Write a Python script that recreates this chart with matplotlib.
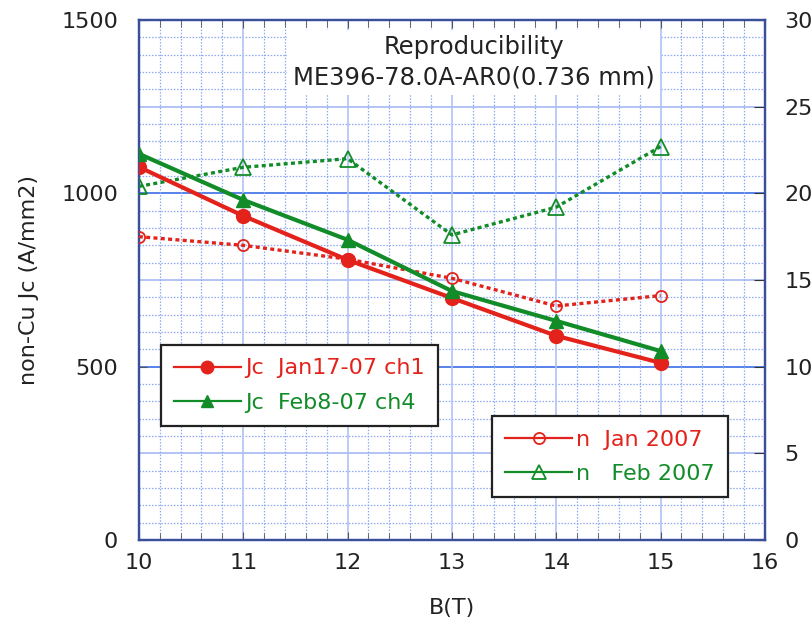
import numpy as np
import matplotlib.pyplot as plt
from matplotlib.lines import Line2D
from matplotlib.ticker import MultipleLocator

plt.rcParams['font.family'] = ['DejaVu Sans']

# ── data ──
field_T = [10, 11, 12, 13, 14, 15]
jc_jan = [1076, 935, 808, 698, 589, 511]
jc_feb = [1114, 981, 866, 718, 632, 545]
n_jan = [17.5, 17.0, 16.2, 15.1, 13.5, 14.1]
n_feb = [20.4, 21.5, 22.0, 17.6, 19.2, 22.7]

RED = '#e3231b'
GREEN = '#128c28'
SPINE = '#3a4f9a'

fig = plt.figure(figsize=(8.12, 6.24), dpi=100)
ax = fig.add_axes([0.171, 0.1346, 0.771, 0.8334])
ax2 = ax.twinx()

# ── grid ──
ax.set_xlim(10, 16)
ax.set_ylim(0, 1500)
ax2.set_ylim(0, 30)
ax.xaxis.set_major_locator(MultipleLocator(1))
ax.xaxis.set_minor_locator(MultipleLocator(0.2))
ax.yaxis.set_major_locator(MultipleLocator(500))
ax.yaxis.set_minor_locator(MultipleLocator(50))
ax2.yaxis.set_major_locator(MultipleLocator(5))

for yv in np.arange(50, 1500, 50):
    if yv % 500 == 0:
        ax.axhline(yv, color='#4a78e8', lw=1.3, zorder=1)
    elif yv % 250 == 0:
        ax.axhline(yv, color='#a6baf3', lw=1.2, zorder=1)
    else:
        ax.axhline(yv, color='#8ea8f2', lw=0.9, ls=(0, (1.2, 1.3)), zorder=1)
for xv in np.arange(10.2, 16, 0.2):
    if abs(xv - round(xv)) < 1e-6:
        ax.axvline(xv, color='#afc2f5', lw=1.2, zorder=1)
    else:
        ax.axvline(xv, color='#8ea8f2', lw=0.9, ls=(0, (1.2, 1.3)), zorder=1)

# ── series ──
ax2.plot(field_T, n_jan, color=RED, lw=2.4, ls=(0, (1.2, 1.0)),
         marker='o', ms=8, mfc='none', mec=RED, mew=1.3, zorder=3)
ax2.plot(field_T, n_feb, color=GREEN, lw=2.4, ls=(0, (1.2, 1.0)),
         marker='^', ms=11, mfc='none', mec=GREEN, mew=1.3, zorder=3)
ax2.plot(field_T, jc_jan, color=RED, lw=3, marker='o', ms=10,
         transform=ax.transData, zorder=4)
ax2.plot(field_T, jc_feb, color=GREEN, lw=3, marker='^', ms=10,
         transform=ax.transData, zorder=4)

# ── axes styling ──
for a in (ax, ax2):
    for s in a.spines.values():
        s.set_color(SPINE)
        s.set_linewidth(1.6)
ax.tick_params(which='both', direction='in', color='#555555', labelsize=16,
               top=True, pad=9, labelcolor='#222222')
ax.tick_params(which='minor', length=5)
ax.tick_params(which='major', length=6)
ax.tick_params(axis='y', which='minor', length=0)
ax.tick_params(axis='y', pad=15)
ax2.tick_params(direction='in', color='#333333', length=8, labelsize=16, pad=14,
                labelcolor='#222222')
ax.set_xticks(range(10, 17))
ax.set_yticks([0, 500, 1000, 1500])
ax2.set_yticks([0, 5, 10, 15, 20, 25, 30])
ax.set_xlabel('B(T)', fontsize=16, labelpad=18, color='#222222')
ax.set_ylabel('non-Cu Jc (A/mm2)', fontsize=16, labelpad=16, color='#222222')

ax2.text(13.21, 27.55, 'Reproducibility\nME396-78.0A-AR0(0.736 mm)',
         ha='center', va='center', fontsize=17.5, linespacing=1.35,
         color='#222222',
         bbox=dict(facecolor='white', edgecolor='none', pad=4), zorder=5)

# ── legends ──
leg_kw = dict(loc='upper left', fontsize=16, frameon=True, fancybox=False,
              edgecolor='#222222', framealpha=1, handlelength=3.0,
              handletextpad=0.2, borderpad=0.6, labelspacing=0.65,
              borderaxespad=0)

h_jc = [Line2D([], [], color=RED, lw=1.6, marker='o', ms=9),
        Line2D([], [], color=GREEN, lw=1.6, marker='^', ms=9)]
leg1 = ax2.legend(h_jc, ['Jc  Jan17-07 ch1', 'Jc  Feb8-07 ch4'],
                  bbox_to_anchor=(0.035, 0.375), **leg_kw)
leg1.get_frame().set_linewidth(1.6)
for t, c in zip(leg1.get_texts(), [RED, GREEN]):
    t.set_color(c)

h_n = [Line2D([], [], color=RED, lw=1.6, marker='o', ms=8, mfc='none', mew=1.3),
       Line2D([], [], color=GREEN, lw=1.6, marker='^', ms=10, mfc='none', mew=1.3)]
leg2 = ax2.legend(h_n, ['n  Jan 2007', 'n   Feb 2007'],
                  bbox_to_anchor=(0.564, 0.238), **leg_kw)
leg2.get_frame().set_linewidth(1.6)
for t, c in zip(leg2.get_texts(), [RED, GREEN]):
    t.set_color(c)
ax2.add_artist(leg1)
leg1.set_zorder(6)
leg2.set_zorder(6)

fig.savefig('out.png', dpi=100, facecolor='white')
